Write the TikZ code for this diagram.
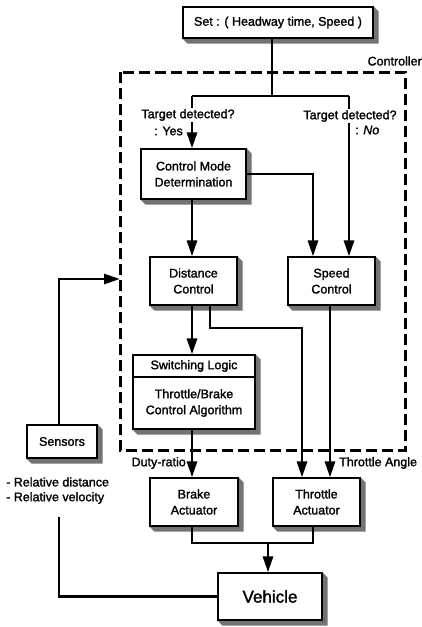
\documentclass[tikz,border=0pt]{standalone}
\usepackage{fontspec}
\setmainfont{Liberation Sans}[FakeBold=1.6]
\usetikzlibrary{arrows.meta,backgrounds,calc}
\newcommand\dropshade[2]{\fill[black!55] (#1.north east) -- ++(5,5) -- ($(#2.south east)+(5,5)$) -- ($(#2.south west)+(5,5)$) -- (#2.south west) -- (#2.south east) -- cycle;}
\begin{document}
\begin{tikzpicture}[x=1pt,y=-1pt,
  box/.style={draw=black, line width=1.2pt, fill=white, inner sep=0pt, align=center, font=\fontsize{12.5}{16}\selectfont},
  conn/.style={line width=2.8pt},
  arr/.style={conn, -{Triangle[length=16pt,width=10pt]}},
  lbl/.style={font=\fontsize{12.5}{15}\selectfont, inner sep=1pt},
  frame/.style={line width=3pt, dash pattern=on 11pt off 5pt}
  ]
\useasboundingbox (0,0) rectangle (422,627);
% controller frame
\coordinate (fnw) at (120,72);
\coordinate (fse) at (405,450);
\draw[frame] (fnw) rectangle (fse);
\node[lbl, anchor=east] (ctrl) at (423,61) {Controller};
% boxes
\node[box, minimum width=190pt, minimum height=31pt] (set) at (278,22.5) {Set : ( Headway time, Speed )};
\node[box, minimum width=105pt, minimum height=50pt] (cmd) at (193.5,174) {Control Mode\\Determination};
\node[box, minimum width=87pt, minimum height=48pt] (dist) at (193.5,281) {Distance\\Control};
\node[box, minimum width=87pt, minimum height=48pt] (spd) at (331.5,281) {Speed\\Control};
\node[box, minimum width=122pt, minimum height=22pt] (swl) at (194,366) {Switching Logic};
\node[box, minimum width=122pt, minimum height=52pt] (alg) at (194,403) {Throttle/Brake\\Control Algorithm};
\node[box, minimum width=88pt, minimum height=48pt] (brake) at (194,502) {Brake\\Actuator};
\node[box, minimum width=87pt, minimum height=48pt] (thr) at (316.5,502) {Throttle\\Actuator};
\node[box, minimum width=104pt, minimum height=47pt, font=\fontsize{17}{20}\selectfont] (veh) at (270,596.5) {Vehicle};
\node[box, minimum width=70pt, minimum height=33pt] (sens) at (62,441.5) {Sensors};
\begin{scope}[on background layer]
\dropshade{set}{set}
\dropshade{cmd}{cmd}
\dropshade{dist}{dist}
\dropshade{spd}{spd}
\dropshade{swl}{alg}
\dropshade{brake}{brake}
\dropshade{thr}{thr}
\dropshade{veh}{veh}
\dropshade{sens}{sens}
\end{scope}
% coordinates
\coordinate (trk) at (272,96);
\coordinate (bl) at (192,96);
\coordinate (bR) at (349,96);
\coordinate (cx) at (313,174);
\coordinate (dx) at (210,328);
\coordinate (tx1) at (302,328);
\coordinate (tx2) at (330,328);
\coordinate (jn) at (268,543);
\coordinate (tj) at (313,543);
\coordinate (fb) at (59,517);
\coordinate (sx) at (59,279);
% connectors
\draw[conn] (set.south -| trk) -- (trk);
\draw[conn] (bl) -- (bR);
\draw[arr] (bl) -- (bl |- cmd.north);
\draw[arr] (bR) -- (bR |- spd.north);
\draw[arr] (cmd.east) -- (cx) -- (cx |- spd.north);
\draw[arr] (cmd.south -| bl) -- (bl |- dist.north);
\draw[arr] (dist.south -| bl) -- (bl |- swl.north);
\draw[arr] (dist.south -| dx) -- (dx) -- (tx1) -- (tx1 |- thr.north);
\draw[arr] (spd.south -| tx2) -- (tx2 |- thr.north);
\draw[arr] (alg.south -| bl) -- (bl |- brake.north);
\draw[conn] (brake.south -| bl) |- (tj) -- (tj |- thr.south);
\draw[arr] (jn) -- (jn |- veh.north);
\draw[conn] (veh.west) -| (fb);
\draw[arr] (sens.north -| sx) -- (sx) -- (sx -| fnw);
% labels
\node[lbl, fill=white] (tdl) at (188,115) {Target detected?};
\node[lbl, anchor=east] (yes) at (184,131) {: Yes};
\node[lbl, fill=white] (tdr) at (350,116) {Target detected?};
\node[lbl, anchor=west] (no) at (354,130) {: \textit{No}};
\node[lbl, anchor=east] (duty) at (187,463) {Duty-ratio};
\node[lbl, anchor=west] (tang) at (338,463) {Throttle Angle};
\node[lbl, anchor=west] (rd) at (5,482) {- Relative distance};
\node[lbl, anchor=west] (rv) at (5,498) {- Relative velocity};
\end{tikzpicture}
\end{document}
